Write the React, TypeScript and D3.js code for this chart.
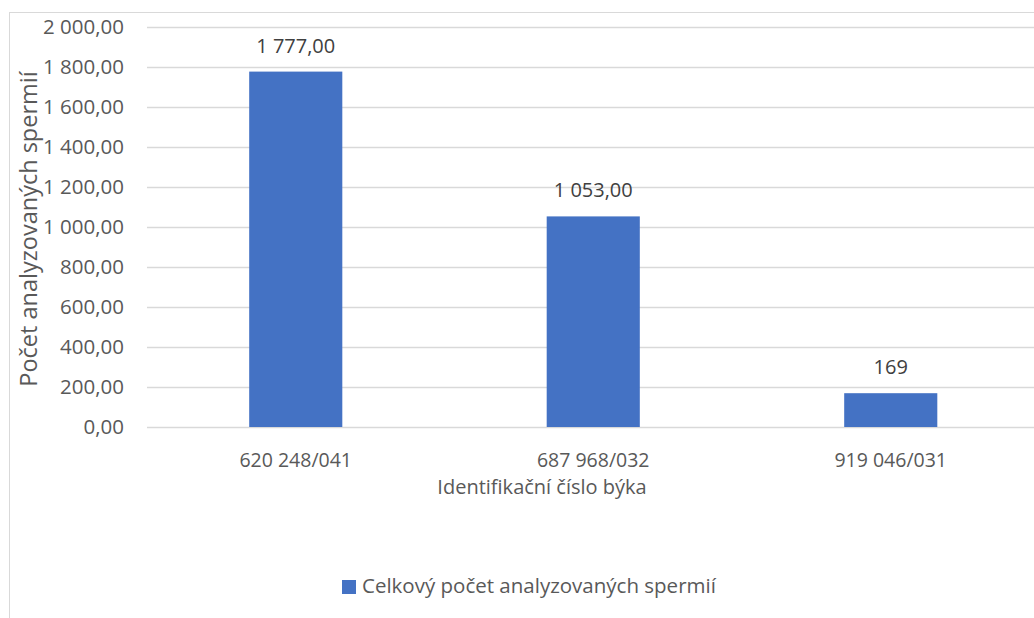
import React, { useEffect, useRef } from 'react';
import * as d3 from 'd3';

const categories = ['620 248/041', '687 968/032', '919 046/031'];
const values = [1777, 1053, 169];
const valueLabels = ['1 777,00', '1 053,00', '169'];
const yTicks = [0, 200, 400, 600, 800, 1000, 1200, 1400, 1600, 1800, 2000];
const seriesName = 'Celkový počet analyzovaných spermií';

const fmt = (v: number) => {
  const s = d3.format(',.2f')(v);
  return s.replace(/,/g, ' ').replace('.', ',');
};

const App = () => {
  const svgRef = useRef<SVGSVGElement>(null);

  useEffect(() => {
    const W = 1034;
    const H = 618;
    const font = '"Open Sans", sans-serif';
    const textColor = '#595959';
    const gridColor = '#d9d9d9';

    const svg = d3.select(svgRef.current)
      .attr('width', W)
      .attr('height', H)
      .style('position', 'absolute')
      .style('left', '0px')
      .style('top', '0px')
      .style('background', '#fff');
    svg.selectAll('*').remove();

    // chart border (cut off at right and bottom)
    svg.append('rect')
      .attr('x', 9.5).attr('y', 12.5)
      .attr('width', W + 20).attr('height', H + 20)
      .attr('fill', 'none').attr('stroke', gridColor);

    const left = 147;
    const x = d3.scaleBand()
      .domain(categories)
      .range([left, left + 3 * 297.5])
      .paddingInner(0.687)
      .paddingOuter(0.3435);

    const y = d3.scaleLinear().domain([0, 2000]).range([427, 27]);

    const g = svg.append('g');

    g.selectAll('.grid')
      .data(yTicks)
      .enter().append('line')
      .attr('x1', left).attr('x2', W)
      .attr('y1', d => Math.round(y(d)) + 0.5)
      .attr('y2', d => Math.round(y(d)) + 0.5)
      .attr('stroke', gridColor).attr('stroke-width', 1.5);

    g.selectAll('.ytick')
      .data(yTicks)
      .enter().append('text')
      .attr('x', 124)
      .attr('y', d => y(d))
      .attr('dy', '0.35em')
      .attr('text-anchor', 'end')
      .style('font-family', font).style('font-size', '20.5px')
      .attr('fill', textColor)
      .text(d => fmt(d));

    g.selectAll('.bar')
      .data(values)
      .enter().append('rect')
      .attr('x', (d, i) => x(categories[i])!)
      .attr('width', x.bandwidth())
      .attr('y', d => y(d))
      .attr('height', d => y(0) - y(d))
      .attr('fill', '#4472c4');

    g.selectAll('.vlabel')
      .data(values)
      .enter().append('text')
      .attr('x', (d, i) => x(categories[i])! + x.bandwidth() / 2)
      .attr('y', d => y(d) - 19)
      .attr('text-anchor', 'middle')
      .style('font-family', font).style('font-size', '20px')
      .attr('fill', '#404040')
      .text((d, i) => valueLabels[i]);

    g.selectAll('.xlabel')
      .data(categories)
      .enter().append('text')
      .attr('x', d => x(d)! + x.bandwidth() / 2)
      .attr('y', 467)
      .attr('text-anchor', 'middle')
      .style('font-family', font).style('font-size', '19.5px')
      .attr('fill', textColor)
      .text(d => d);

    svg.append('text')
      .attr('x', 542).attr('y', 494)
      .attr('text-anchor', 'middle')
      .style('font-family', font).style('font-size', '20px')
      .attr('fill', textColor)
      .text('Identifikační číslo býka');

    svg.append('text')
      .attr('transform', 'translate(37,229) rotate(-90)')
      .attr('text-anchor', 'middle')
      .style('font-family', font).style('font-size', '23.5px')
      .attr('fill', textColor)
      .text('Počet analyzovaných spermií');

    const legend = svg.append('g').attr('transform', 'translate(342,580)');
    legend.append('rect')
      .attr('width', 14).attr('height', 14)
      .attr('fill', '#4472c4');
    legend.append('text')
      .attr('x', 20).attr('y', 13)
      .style('font-family', font).style('font-size', '20.5px')
      .attr('fill', textColor)
      .text(seriesName);
  }, []);

  return <svg ref={svgRef}></svg>;
};

export default App;
